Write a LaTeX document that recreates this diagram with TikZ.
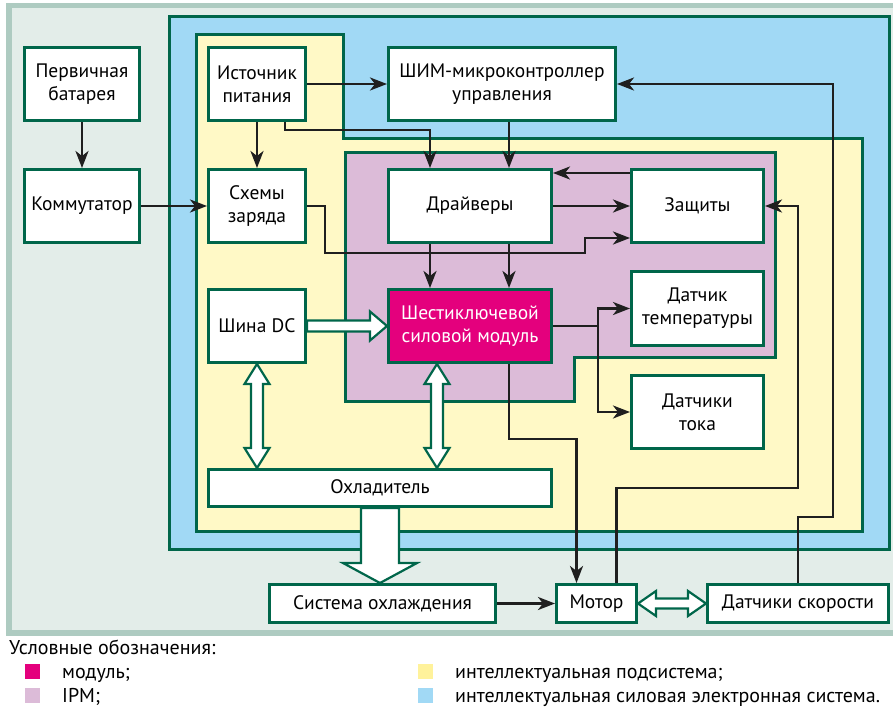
\documentclass[tikz,border=0pt]{standalone}
\usepackage{fontspec}
\setmainfont{PT Sans}
\usepackage{tikz}
\usetikzlibrary{arrows.meta,positioning,calc}
\definecolor{dkzel}{HTML}{00664A}
\definecolor{modul}{HTML}{E4007D}
\definecolor{ipm}{HTML}{DCBBD8}
\definecolor{podsis}{HTML}{FFF9C6}
\definecolor{podsisleg}{HTML}{FFF29B}
\definecolor{silsis}{HTML}{A1D9F5}
\definecolor{fonpan}{HTML}{E3EDE9}
\definecolor{ramkapan}{HTML}{AECBC1}
\newcommand{\shrift}{\fontsize{19.5}{23}\selectfont}
\tikzset{
  blok/.style={
    draw=dkzel,
    line width=3pt,
    fill=white,
    align=center,
    inner sep=1pt,
    font=\shrift
  },
  sig/.style={
    -{Stealth[length=17pt,width=13pt,inset=5pt]},
    line width=2.7pt,
    draw=black!88
  },
  oblast/.style={
    draw=dkzel,
    line width=3pt
  },
  legkv/.style={
    minimum size=15pt,
    inner sep=0pt
  },
  legtekst/.style={
    anchor=base west,
    font=\fontsize{20}{24}\selectfont,
    inner sep=0pt
  },
  % polaja strelka s odnim nakonechnikom: #1 pol-shiriny stvola, #2 pol-shiriny golovy, #3 dlina golovy
  odnastrelka/.style n args={3}{
    draw=dkzel,
    line width=2.2pt,
    fill=white,
    to path={-- ($(\tikztostart)!#1!90:(\tikztotarget)$)
      -- ($(\tikztotarget)!#3!(\tikztostart)!#1!90:(\tikztotarget)$)
      -- ($(\tikztotarget)!#3!(\tikztostart)!#2!90:(\tikztotarget)$)
      -- (\tikztotarget)
      -- ($(\tikztotarget)!#3!(\tikztostart)!#2!-90:(\tikztotarget)$)
      -- ($(\tikztotarget)!#3!(\tikztostart)!#1!-90:(\tikztotarget)$)
      -- ($(\tikztostart)!#1!-90:(\tikztotarget)$) -- cycle}
  },
  dvestrelka/.style n args={3}{
    draw=dkzel,
    line width=2.2pt,
    fill=white,
    to path={-- ($(\tikztostart)!#3!(\tikztotarget)!#2!90:(\tikztotarget)$)
      -- ($(\tikztostart)!#3!(\tikztotarget)!#1!90:(\tikztotarget)$)
      -- ($(\tikztotarget)!#3!(\tikztostart)!#1!90:(\tikztotarget)$)
      -- ($(\tikztotarget)!#3!(\tikztostart)!#2!90:(\tikztotarget)$)
      -- (\tikztotarget)
      -- ($(\tikztotarget)!#3!(\tikztostart)!#2!-90:(\tikztotarget)$)
      -- ($(\tikztotarget)!#3!(\tikztostart)!#1!-90:(\tikztotarget)$)
      -- ($(\tikztostart)!#3!(\tikztotarget)!#1!-90:(\tikztotarget)$)
      -- ($(\tikztostart)!#3!(\tikztotarget)!#2!-90:(\tikztotarget)$) -- cycle}
  }
}
\begin{document}
\begin{tikzpicture}[x=1pt,y=-1pt]
  \useasboundingbox (0,0) rectangle (893,706);

  % oblasti
  \draw[draw=ramkapan, line width=5.5pt, fill=fonpan] (9,5.5) rectangle (900,633);
  \draw[oblast, fill=silsis] (169,17) rectangle (889.5,549);
  \draw[oblast, fill=podsis] (196,35) -- (343,35) -- (343,138) -- (862,138) -- (862,531) -- (196,531) -- cycle;
  \draw[oblast, fill=ipm] (345,152) -- (775,152) -- (775,357) -- (574,357) -- (574,401) -- (345,401) -- cycle;

  % bloki
  \node[blok, minimum width=115pt, minimum height=73pt] (bat) at (82,84) {Первичная\\батарея};
  \node[blok, minimum width=115pt, minimum height=73pt, below=46pt of bat] (komm) {Коммутатор};
  \node[blok, minimum width=97pt, minimum height=73pt] (istoch) at (257,84) {Источник\\питания};
  \node[blok, minimum width=97pt, minimum height=73pt, below=46pt of istoch] (shemy) {Схемы\\заряда};
  \node[blok, minimum width=97pt, minimum height=73pt, below=44pt of shemy] (shina) {Шина DC};
  \node[blok, minimum width=227pt, minimum height=73pt] (shim) at (502,84) {ШИМ-микроконтроллер\\управления};
  \node[blok, minimum width=163pt, minimum height=73pt] (drajv) at (470,206) {Драйверы};
  \node[blok, fill=modul, text=white, minimum width=163pt, minimum height=73pt, below=44pt of drajv] (silmod) {Шестиключевой\\силовой модуль};
  \node[blok, minimum width=132pt, minimum height=73pt, right=77pt of drajv] (zashch) {Защиты};
  \node[blok, minimum width=132pt, minimum height=74pt] (dtemp) at (697.5,308.5) {Датчик\\температуры};
  \node[blok, minimum width=132pt, minimum height=73pt] (dtok) at (697.5,412) {Датчики\\тока};
  \node[blok, minimum width=343pt, minimum height=37pt] (ohl) at (380,488) {Охладитель};
  \node[blok, minimum width=226pt, minimum height=38pt] (sysohl) at (382.5,603.5) {Система охлаждения};
  \node[blok, minimum width=80pt, minimum height=38pt] (motor) at (596.5,603.5) {Мотор};
  \node[blok, minimum width=181pt, minimum height=38pt] (dskor) at (798,603.5) {Датчики скорости};

  % polye strelki
  \draw[odnastrelka={5.5pt}{14.5pt}{17pt}] (shina.east) to (shina.east -| silmod.west);
  \draw[dvestrelka={6pt}{12.5pt}{20pt}] (shina.south) to (shina.south |- ohl.north);
  \draw[dvestrelka={6pt}{12.5pt}{20pt}] ($(silmod.south)+(-33,0)$) to ($(silmod.south |- ohl.north)+(-33,0)$);
  \draw[odnastrelka={19pt}{37pt}{20pt}] (ohl.south) to (ohl.south |- sysohl.north);
  \draw[dvestrelka={5pt}{12.5pt}{18pt}] (motor.east) to (dskor.west);

  % signaly
  \coordinate (drajvpr) at ($(drajv.north)+(39,0)$);
  \draw[sig] (bat) -- (komm);
  \draw[sig] (komm) -- (shemy);
  \draw[sig] (istoch) -- (shim);
  \draw[sig] (istoch) -- (shemy);
  \draw[sig] ($(istoch.south)+(28,0)$) -- ++(0,8) -| ($(drajv.north)+(-40,0)$);
  \draw[sig] (drajvpr |- shim.south) -- (drajvpr);
  \draw[sig] ($(zashch.west)+(0,-33)$) -- ($(drajv.east)+(0,-33)$);
  \draw[sig] (drajv) -- (zashch);
  \draw[sig] (shemy.east) -- ++(18,0) -- ++(0,47) -- ++(260,0) |- ($(zashch.west)+(0,32)$);
  \draw[sig] ($(drajv.south)+(-40,0)$) -- ($(silmod.north)+(-40,0)$);
  \draw[sig] ($(drajv.south)+(39,0)$) -- ($(silmod.north)+(39,0)$);
  \draw[sig] (silmod.east) -- ++(45,0) coordinate (razv) |- (dtemp.west);
  \draw[sig] (razv) |- (dtok.west);
  \draw[sig] ($(silmod.south)+(39,0)$) -- ++(0,75) -| ($(motor.north)+(-20,0)$);
  \draw[sig] ($(motor.north)+(20,0)$) -- ++(0,-95) -| ($(zashch.east)+(33,0)$) -- (zashch.east);
  \draw[sig] (dskor.north) -- ++(0,-66) -| ($(shim.east)+(216,0)$) -- (shim.east);
  \draw[sig] (sysohl) -- (motor);

  % legenda
  \node[legtekst] (legzag) at (9,654) {Условные обозначения:};
  \node[legkv, fill=modul] (kvmod) at (32.5,671.5) {};
  \node[legkv, fill=ipm] (kvipm) at (32.5,695.5) {};
  \node[legkv, fill=podsisleg] (kvpod) at (425.5,671.5) {};
  \node[legkv, fill=silsis] (kvsil) at (425.5,695.5) {};
  \node[legtekst] (legmod) at (62,678) {модуль;};
  \node[legtekst] (legipm) at (62,702) {IPM;};
  \node[legtekst] (legpod) at (455,678) {интеллектуальная подсистема;};
  \node[legtekst] (legsil) at (455,702) {интеллектуальная силовая электронная система.};
\end{tikzpicture}
\end{document}
